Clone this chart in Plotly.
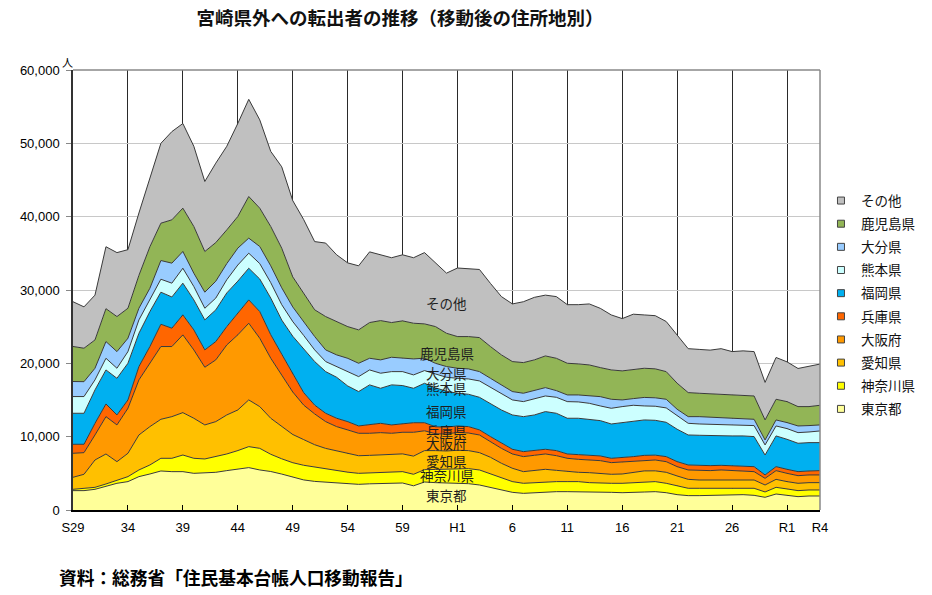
import plotly.graph_objects as go

years = list(range(1954, 2023))
tick_vals = [1954, 1959, 1964, 1969, 1974, 1979, 1984, 1989, 1994, 1999, 2004, 2009, 2014, 2019, 2022]
tick_text = ["S29", "34", "39", "44", "49", "54", "59", "H1", "6", "11", "16", "21", "26", "R1", "R4"]

tokyo = [2640, 2640, 2820, 3270, 3640, 3870, 4550, 4910, 5320, 5230,
         5230, 5000, 5090, 5140, 5370, 5590, 5780, 5460, 5250, 4900,
         4450, 4100, 3900, 3800, 3660, 3570, 3500, 3570, 3630, 3680,
         3680, 3300, 3820, 3730, 3660, 3640, 3590, 3410, 3090, 2730,
         2410, 2270, 2360, 2500, 2500, 2500, 2500, 2500, 2500, 2410,
         2360, 2360, 2450, 2500, 2360, 2090, 1960, 1960, 2000, 2050,
         2090, 2090, 2000, 1730, 2180, 2000, 1820, 1910, 1910]
kanagawa = [180, 320, 270, 280, 450, 680, 910, 1230, 1730, 1820,
            2270, 2050, 1870, 2140, 2270, 2510, 2860, 2950, 2350, 2080,
            2000, 2000, 1950, 1780, 1660, 1590, 1500, 1500, 1500, 1500,
            1550, 1570, 1680, 1800, 1890, 2000, 2050, 2050, 1820, 1590,
            1460, 1370, 1370, 1370, 1370, 1370, 1370, 1230, 1140, 1230,
            1280, 1370, 1400, 1370, 1280, 1180, 1000, 1000, 960, 950,
            960, 960, 960, 730, 910, 870, 820, 820, 820]
aichi = [1640, 1910, 3730, 4090, 2500, 3180, 4770, 5230, 5320, 5680,
         5780, 5460, 4640, 4770, 5320, 5540, 6370, 5690, 4910, 4390,
         3850, 3500, 3050, 2820, 2730, 2540, 2400, 2380, 2420, 2420,
         2420, 2480, 2600, 2570, 2500, 2500, 2460, 2360, 2280, 2050,
         1820, 1590, 1640, 1680, 1540, 1360, 1270, 1360, 1360, 1230,
         1270, 1360, 1480, 1470, 1500, 1370, 1220, 1130, 1130, 1180,
         1130, 1130, 1130, 950, 1090, 1000, 1000, 1000, 1000]
osaka = [3270, 2950, 3410, 5090, 5010, 6140, 7510, 8640, 9920, 9560,
         10600, 9320, 7870, 8420, 9550, 10240, 10460, 9320, 8190, 7030,
         5800, 4700, 4200, 3650, 3320, 3220, 3060, 3010, 3000, 2860,
         2950, 3250, 2700, 2300, 2300, 2450, 2400, 2410, 2130, 2040,
         1950, 2050, 2090, 2090, 2000, 1820, 1770, 1730, 1730, 1590,
         1640, 1640, 1490, 1480, 1450, 1270, 1280, 1280, 1280, 1280,
         1190, 1190, 1140, 910, 1190, 1130, 1040, 1050, 1050]
hyogo = [1230, 1140, 1590, 1730, 1360, 1140, 1820, 2280, 3040, 2500,
         2730, 2730, 2360, 2500, 2500, 2950, 3180, 3640, 3200, 2850,
         2550, 1700, 1200, 1140, 1140, 1130, 1000, 1140, 1270, 1140,
         1130, 1300, 1100, 950, 950, 870, 870, 690, 690, 690,
         640, 680, 640, 640, 690, 590, 640, 680, 640, 590,
         590, 550, 630, 660, 690, 680, 680, 680, 680, 630,
         680, 680, 680, 460, 540, 550, 550, 540, 590]
fukuoka = [4230, 4230, 4550, 4640, 5000, 5000, 4540, 4770, 4370, 4260,
           4320, 4090, 4090, 4320, 4590, 4370, 4320, 4440, 5000, 4650,
           5050, 6000, 5940, 5680, 5590, 4870, 4690, 5460, 4780, 5460,
           5240, 4700, 5380, 5300, 4900, 4460, 4410, 4450, 4540, 4540,
           4680, 4770, 4860, 5140, 5090, 4870, 4960, 4870, 4820, 4680,
           4780, 4910, 4830, 4750, 4680, 4420, 4090, 4140, 4090, 4050,
           4050, 4050, 4100, 2720, 4190, 4090, 3870, 3870, 3820]
kumamoto = [2280, 2280, 1370, 1590, 1370, 1590, 1820, 1590, 1770, 1880,
            2040, 1820, 1590, 1610, 1800, 2200, 2050, 2100, 2100, 2100,
            2000, 1800, 1590, 1370, 1460, 1950, 2040, 2040, 2050, 1810,
            1900, 1820, 1730, 1900, 1900, 2040, 2090, 2230, 2190, 2280,
            2050, 2050, 2180, 2130, 2180, 2270, 2230, 2180, 2000, 2140,
            2180, 2090, 1910, 1920, 1960, 1820, 1590, 1540, 1550, 1550,
            1500, 1500, 1500, 1370, 1360, 1460, 1450, 1450, 1590]
oita = [2050, 2030, 1590, 2280, 2270, 1820, 1590, 1590, 2550, 2730,
        2280, 1820, 2190, 2300, 2200, 2300, 2050, 2330, 2300, 2300,
        2000, 1800, 1820, 1590, 1590, 1820, 1820, 1590, 1820, 1960,
        1820, 2180, 1690, 1450, 1460, 1370, 1370, 1270, 1220, 1140,
        1140, 1140, 1140, 1140, 910, 910, 950, 1050, 1270, 1230,
        910, 910, 1160, 1150, 1180, 900, 910, 1000, 950, 950,
        910, 860, 860, 680, 820, 820, 910, 870, 820]
kagoshima = [4780, 4560, 3860, 4480, 4780, 4090, 4490, 5660, 5090, 5910,
             5910, 6370, 5550, 5270, 4600, 4320, 5680, 5230, 5360, 5400,
             4100, 4000, 3650, 4550, 4550, 4320, 4550, 4870, 5360, 4730,
             5100, 4870, 4680, 5010, 4540, 4320, 4410, 4640, 4330, 4090,
             4090, 4180, 4190, 4320, 4410, 4320, 4230, 4180, 3960, 4000,
             3960, 4000, 3980, 3950, 3770, 3550, 3280, 3190, 3190, 3140,
             3180, 3190, 3180, 2730, 2820, 2860, 2640, 2590, 2680]
other = [6100, 5640, 6110, 8450, 8720, 7990, 8500, 9300, 10890, 12030,
         11540, 10940, 9550, 10830, 11400, 12680, 13250, 12040, 10240, 11100,
         10400, 10000, 9300, 10020, 9100, 8690, 8740, 9640, 8970, 8840,
         9010, 8930, 9720, 8690, 8200, 9350, 9250, 9290, 8610, 7950,
         7860, 8300, 8530, 8290, 8410, 7990, 8080, 8320, 8080, 7500,
         7130, 7510, 7270, 7250, 6830, 6620, 5990, 5980, 5970, 6220,
         5910, 6050, 6050, 5120, 5700, 5420, 5200, 5500, 5620]

names = ["東京都", "神奈川県", "愛知県", "大阪府", "兵庫県",
         "福岡県", "熊本県", "大分県", "鹿児島県", "その他"]
values = [tokyo, kanagawa, aichi, osaka, hyogo, fukuoka, kumamoto, oita, kagoshima, other]
colors = ["#FFFF99", "#FFFF00", "#FFC000", "#FF9900", "#FF6600",
          "#00B0F0", "#CCFFFF", "#99CCFF", "#92B556", "#C0C0C0"]

# in-chart labels: (x year, y value)
label_x = 1988
label_y = [1810, 4540, 6590, 9000, 10550, 13270, 16460, 18410, 21140, 27960]

fig = go.Figure()
for n, v, c in zip(names, values, colors):
    fig.add_trace(go.Scatter(
        x=years, y=v, name=n, stackgroup="one", mode="lines",
        line=dict(color="#3a3a3a", width=1), fillcolor=c,
        showlegend=False, hoverinfo="skip"))

# legend entries (top to bottom)
for n, c in zip(names[::-1], colors[::-1]):
    fig.add_trace(go.Scatter(
        x=[None], y=[None], mode="markers", name=n, legendgroup=n,
        marker=dict(symbol="square", size=7, color=c, line=dict(color="#444", width=1)),
        showlegend=True, hoverinfo="skip"))

for n, yv in zip(names, label_y):
    fig.add_annotation(x=label_x, y=yv, text=n, showarrow=False,
                       font=dict(size=13.5, color="#1e1e1e"),
                       xanchor="center", yanchor="middle")

fig.add_annotation(xref="paper", yref="paper", x=-0.008, y=1.018, text="人",
                   showarrow=False, font=dict(size=11, color="#000", family="Noto Sans CJK JP"),
                   xanchor="center", yanchor="middle")
fig.add_annotation(xref="paper", yref="paper", x=-0.0214, y=-0.152,
                   text="<b>資料：総務省「住民基本台帳人口移動報告」</b>",
                   showarrow=False, font=dict(size=17.7, color="#000", family="Noto Sans CJK JP"),
                   xanchor="left", yanchor="middle")

fig.add_shape(type="line", xref="paper", yref="paper", x0=0, x1=1, y0=1, y1=1,
              line=dict(color="#888888", width=1.5), layer="above")
fig.add_shape(type="line", xref="paper", yref="paper", x0=1, x1=1, y0=0, y1=1,
              line=dict(color="#888888", width=1.5), layer="above")

fig.update_layout(
    width=932, height=595,
    margin=dict(l=65, r=120, t=62, b=93),
    paper_bgcolor="white", plot_bgcolor="white",
    font=dict(family="Liberation Sans, Arial, Noto Sans CJK JP", size=13, color="#000"),
    title=dict(text="<b>宮崎県外への転出者の推移（移動後の住所地別）</b>",
               x=0.4206, xanchor="center", y=0.983, yanchor="middle",
               font=dict(size=18.5, family="Noto Sans CJK JP", color="#111")),
    showlegend=True,
    legend=dict(x=1.0013, xanchor="left", y=0.738, yanchor="top",
                traceorder="grouped", tracegroupgap=2.6,
                font=dict(size=13.5, family="Noto Sans CJK JP", color="#111"),
                bgcolor="rgba(0,0,0,0)", itemclick=False, itemdoubleclick=False),
    xaxis=dict(range=[1954, 2022], tickmode="array", tickvals=tick_vals, ticktext=tick_text,
               showgrid=True, gridcolor="#2a2a2a", gridwidth=1,
               showline=True, linecolor="#000", linewidth=1.5,
               ticks="inside", ticklen=5, tickcolor="#000",
               tickfont=dict(size=13, color="#000"), zeroline=False, fixedrange=True,
               ticklabelstandoff=5),
    yaxis=dict(range=[0, 60000], dtick=10000, tickformat=",",
               showgrid=True, gridcolor="#c8c8c8", gridwidth=1,
               showline=True, linecolor="#333", linewidth=1.5,
               ticks="outside", ticklen=5, tickcolor="#888",
               tickfont=dict(size=13, color="#000"), zeroline=False, fixedrange=True,
               ticklabelstandoff=4),
)

fig.write_html("out.html")
